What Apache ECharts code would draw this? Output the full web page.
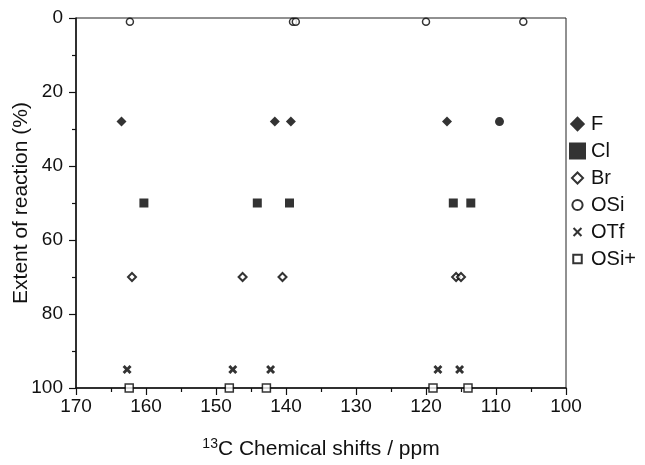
<!DOCTYPE html>
<html>
<head>
    <meta charset="utf-8">
    <title>13C chemical shifts</title>
    <script src="https://cdn.jsdelivr.net/npm/echarts@6/dist/echarts.min.js"></script>
    <style type="text/css">
        body{ margin:0; }
        #main{ width:645px; height:465px; }
    </style>
</head>
<body>
    <div id="main"></div>
    <script type="text/javascript">
        // [ppm, extent %]
        var dataF   = [[163.5, 28], [141.6, 28], [139.3, 28], [117.0, 28]];
        var dataFdot = [[109.5, 28]];   // the round filled point in the same row
        var dataCl  = [[160.3, 50], [144.1, 50], [139.5, 50], [116.1, 50], [113.6, 50]];
        var dataBr  = [[162.0, 70], [146.2, 70], [140.5, 70], [115.7, 70], [115.0, 70]];
        var dataOSi = [[162.3, 1], [139.0, 1], [138.6, 1], [120.0, 1], [106.1, 1]];
        var dataOTf = [[162.7, 95], [147.6, 95], [142.2, 95], [118.3, 95], [115.2, 95]];
        var dataOSiP = [[162.4, 100], [148.1, 100], [142.8, 100], [119.0, 100], [114.0, 100]];
        var xTicks = [170, 160, 150, 140, 130, 120, 110, 100];
        var yTicks = [0, 20, 40, 60, 80, 100];

        var crossPath = 'path://M2.3,0L5,2.7L7.7,0L10,2.3L7.3,5L10,7.7L7.7,10L5,7.3L2.3,10L0,7.7L2.7,5L0,2.3Z';
        // legend icons drawn inside a 20x20 box so they keep their own size
        var box = 'path://M0,0M20,20';
        var icons = {
            F:    box + 'M10,1L19,10L10,19L1,10Z',
            Cl:   'rect',
            Br:   box + 'M10,3.5L16.5,10L10,16.5L3.5,10Z',
            OSi:  box + 'M10,4A6,6,0,1,1,9.99,4Z',
            OTf:  box + 'M6.2,4.5L10,8.3L13.8,4.5L15.5,6.2L11.7,10L15.5,13.8L13.8,15.5L10,11.7L6.2,15.5L4.5,13.8L8.3,10L4.5,6.2Z',
            OSiP: box + 'M5,5L15,5L15,15L5,15Z'
        };
        var font = '"Liberation Sans", Arial, sans-serif';
        var tickStyle = { color: '#111', width: 1.2 };

        var myChart = echarts.init(document.getElementById('main'));
        var option = {
            backgroundColor: '#fff',
            animation: false,
            textStyle: { fontFamily: font },
            grid: {
                left: 76, right: 79, top: 18, bottom: 77,
                outerBoundsMode: 'none', containLabel: false,
                show: true, borderColor: '#222', borderWidth: 1
            },
            legend: {
                orient: 'vertical',
                left: 563,
                top: 109,
                itemWidth: 17,
                itemHeight: 17,
                itemGap: 7,
                textStyle: { fontSize: 20, color: '#111', fontFamily: font },
                data: [
                    { name: 'F', icon: icons.F },
                    { name: 'Cl', icon: icons.Cl },
                    { name: 'Br', icon: icons.Br },
                    { name: 'OSi', icon: icons.OSi },
                    { name: 'OTf', icon: icons.OTf },
                    { name: 'OSi+', icon: icons.OSiP }
                ]
            },
            xAxis: {
                type: 'value',
                inverse: true,
                min: xTicks[xTicks.length - 1],
                max: xTicks[0],
                interval: 10,
                name: '{sup|13}C Chemical shifts / ppm',
                nameLocation: 'middle',
                nameGap: 49,
                nameMoveOverlap: false,
                nameTextStyle: {
                    fontSize: 21, color: '#111', fontFamily: font,
                    rich: { sup: { fontSize: 14, verticalAlign: 'top', padding: [0, 0, 10, 0], color: '#111' } }
                },
                axisLine: { onZero: false, lineStyle: { color: '#111', width: 1.5 } },
                axisTick: { length: 7, lineStyle: tickStyle },
                minorTick: { show: true, splitNumber: 2, length: 4, lineStyle: tickStyle },
                axisLabel: { fontSize: 19, color: '#111', margin: 9, fontFamily: font },
                splitLine: { show: false }
            },
            yAxis: {
                type: 'value',
                inverse: true,
                min: yTicks[0],
                max: yTicks[yTicks.length - 1],
                interval: 20,
                name: 'Extent of reaction (%)',
                nameLocation: 'middle',
                nameGap: 44,
                nameMoveOverlap: false,
                nameTextStyle: { fontSize: 21, color: '#111', fontFamily: font },
                axisLine: { onZero: false, lineStyle: { color: '#111', width: 1.5 } },
                axisTick: { length: 7, lineStyle: tickStyle },
                minorTick: { show: true, splitNumber: 2, length: 4, lineStyle: tickStyle },
                axisLabel: { fontSize: 19, color: '#111', margin: 13, fontFamily: font },
                splitLine: { show: false }
            },
            series: [
                {
                    name: 'F', type: 'scatter', data: dataF,
                    symbol: 'diamond', symbolSize: 10,
                    itemStyle: { color: '#000' }
                },
                {
                    name: 'F', type: 'scatter', data: dataFdot,
                    symbol: 'circle', symbolSize: 9,
                    itemStyle: { color: '#000' }
                },
                {
                    name: 'Cl', type: 'scatter', data: dataCl,
                    symbol: 'rect', symbolSize: 9,
                    itemStyle: { color: '#000' }
                },
                {
                    name: 'Br', type: 'scatter', data: dataBr,
                    symbol: 'diamond', symbolSize: 8,
                    itemStyle: { color: '#fff', borderColor: '#000', borderWidth: 2 }
                },
                {
                    name: 'OSi', type: 'scatter', data: dataOSi,
                    symbol: 'circle', symbolSize: 7,
                    itemStyle: { color: '#fff', borderColor: '#000', borderWidth: 1.5 }
                },
                {
                    name: 'OTf', type: 'scatter', data: dataOTf,
                    symbol: crossPath, symbolSize: 9,
                    itemStyle: { color: '#000' }
                },
                {
                    name: 'OSi+', type: 'scatter', data: dataOSiP,
                    symbol: 'rect', symbolSize: 8,
                    itemStyle: { color: '#fff', borderColor: '#000', borderWidth: 1.5 }
                }
            ]
        };
        myChart.setOption(option);
    </script>
</body>
</html>
